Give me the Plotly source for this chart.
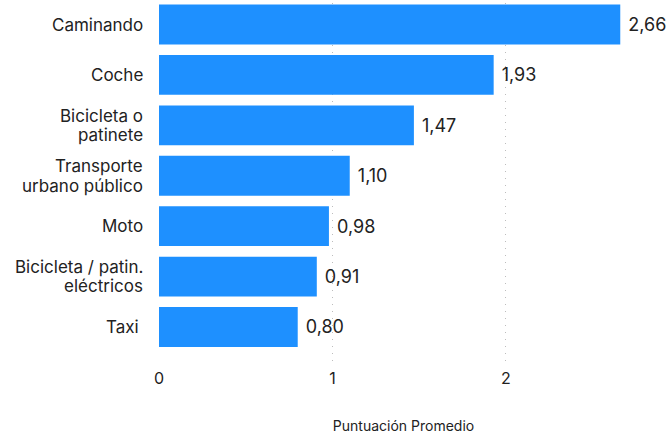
import plotly.graph_objects as go

# Average score per mode of transport
modes = [
    "Caminando",
    "Coche",
    "Bicicleta o<br>patinete",
    "Transporte<br>urbano público",
    "Moto",
    "Bicicleta / patin.<br>eléctricos",
    "Taxi\u00a0",
]
scores = [2.66, 1.93, 1.47, 1.10, 0.98, 0.91, 0.80]
x_ticks = [0, 1, 2]

BAR_COLOR = "#1E90FF"
TEXT_COLOR = "#222222"
FONT = "Inter, Roboto, Arial, sans-serif"
LABEL_SIZE = 17
LINE_PITCH = 19.5

fig = go.Figure(
    go.Bar(
        x=scores,
        y=list(range(len(modes))),
        orientation="h",
        marker=dict(color=BAR_COLOR, line=dict(width=0)),
        texttemplate=" %{x:.2f}",
        textposition="outside",
        textfont=dict(family=FONT, size=18, color=TEXT_COLOR),
        cliponaxis=False,
        hoverinfo="skip",
    )
)

# Category labels: one annotation per line so the line spacing stays tight
for i, label in enumerate(modes):
    lines = label.split("<br>")
    n = len(lines)
    for j, line in enumerate(lines):
        offset = ((n - 1) / 2 - j) * LINE_PITCH
        fig.add_annotation(
            x=0, xref="paper", xanchor="right", xshift=-14,
            y=i, yref="y", yanchor="middle", yshift=offset,
            text=line, showarrow=False,
            font=dict(family=FONT, size=LABEL_SIZE, color=TEXT_COLOR),
        )

fig.update_layout(
    width=669,
    height=436,
    margin=dict(l=159, r=21, t=3, b=69),
    paper_bgcolor="white",
    plot_bgcolor="white",
    separators=",.",
    bargap=0.21,
    showlegend=False,
    font=dict(family=FONT, color=TEXT_COLOR),
)

fig.update_xaxes(
    range=[0, 2.82],
    tickvals=x_ticks,
    ticktext=[str(v) for v in x_ticks],
    tickfont=dict(family=FONT, size=16, color=TEXT_COLOR),
    showgrid=True,
    gridcolor="#bdbdbd",
    griddash="1px,6px",
    gridwidth=1,
    zeroline=False,
    showline=False,
    ticks="",
    title=dict(
        text="Puntuación Promedio",
        font=dict(family=FONT, size=14, color=TEXT_COLOR),
        standoff=34,
    ),
    automargin=False,
)

fig.update_yaxes(
    range=[6.794, -0.427],
    tickvals=list(range(len(modes))),
    showticklabels=False,
    showgrid=False,
    zeroline=False,
    showline=False,
    ticks="",
    automargin=False,
)

fig.write_html("out.html")
